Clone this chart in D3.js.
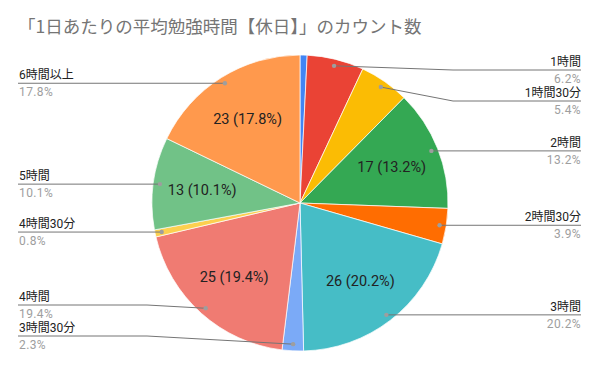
<!DOCTYPE html>
<html>
<head>
<meta charset="utf-8">
<script src="https://cdn.jsdelivr.net/npm/d3@7"></script>
<style>
  body { margin: 0; background: #fff; }
  text { font-family: Roboto, "Noto Sans CJK JP", sans-serif; }
</style>
</head>
<body>
<svg id="chart"></svg>
<script>
const width = 600, height = 371;

// data
const categories = ["30分", "1時間", "1時間30分", "2時間", "2時間30分", "3時間", "3時間30分", "4時間", "4時間30分", "5時間", "6時間以上"];
const counts = [1, 8, 7, 17, 5, 26, 3, 25, 1, 13, 23];
const colors = ["#4285f4", "#ea4335", "#fbbc04", "#34a853", "#ff6d01", "#46bdc6", "#7baaf7", "#f07b72", "#fcd04f", "#71c287", "#ff994d"];
// the reference shows no outside label for this slice
const hiddenLabels = ["30分"];
const title = "「1日あたりの平均勉強時間【休日】」のカウント数";

const cx = 300, cy = 203, r = 148;
const total = d3.sum(counts);
const fmt = d3.format(".1f");

const svg = d3.select('#chart')
  .attr('width', width)
  .attr('height', height);

svg.append('text')
  .attr('x', 18)
  .attr('y', 33)
  .attr('fill', '#757575')
  .style('font-family', '"Noto Sans CJK JP", sans-serif')
  .style('font-size', '17.5px')
  .text(title);

const data = categories.map((c, i) => ({ name: c, value: counts[i], color: colors[i] }));

const pie = d3.pie().sort(null).value(d => d.value);
const arcs = pie(data);

const arc = d3.arc().innerRadius(0).outerRadius(r);

const g = svg.append('g').attr('transform', `translate(${cx},${cy})`);

g.selectAll('path')
  .data(arcs)
  .enter()
  .append('path')
  .attr('d', arc)
  .attr('fill', d => d.data.color)
  .attr('stroke', '#fff')
  .attr('stroke-width', 0.7);

// values inside the big slices
const inner = d3.arc().innerRadius(r * 0.667).outerRadius(r * 0.667);
g.selectAll('text.val')
  .data(arcs.filter(d => d.data.value / total >= 0.1))
  .enter()
  .append('text')
  .attr('class', 'val')
  .attr('x', d => inner.centroid(d)[0])
  .attr('y', d => inner.centroid(d)[1] + 5)
  .attr('text-anchor', 'middle')
  .attr('fill', '#222')
  .style('font-size', '14.5px')
  .text(d => `${d.data.value} (${fmt(d.data.value / total * 100)}%)`);

// outside labels
const dotArc = d3.arc().innerRadius(r * 0.955).outerRadius(r * 0.955);
const labels = arcs.filter(d => !hiddenLabels.includes(d.data.name)).map(d => {
  const mid = (d.startAngle + d.endAngle) / 2;
  const p = dotArc.centroid(d);
  return { d, right: mid < Math.PI, dx: p[0] + cx, dy: p[1] + cy, y: p[1] + cy };
});

const gap = 31, minY = 70, maxY = 336;
[true, false].forEach(side => {
  const list = labels.filter(l => l.right === side).sort((a, b) => a.dy - b.dy);
  list.forEach((l, i) => {
    l.y = Math.max(l.y, minY);
    if (i > 0) l.y = Math.max(l.y, list[i - 1].y + gap);
  });
  for (let i = list.length - 1; i >= 0; i--) {
    const l = list[i];
    l.y = Math.min(l.y, maxY);
    if (i < list.length - 1) l.y = Math.min(l.y, list[i + 1].y - gap);
  }
});

const rightX = 581, leftX = 18;
const lg = svg.append('g');

labels.forEach(l => {
  const edge = l.right ? rightX : leftX;
  const bend = l.right ? cx + r + 5 : cx - r - 5;
  const pts = Math.abs(l.y - l.dy) < 1
    ? [[l.dx, l.y], [edge, l.y]]
    : [[l.dx, l.dy], [bend, l.y], [edge, l.y]];
  lg.append('path')
    .attr('d', d3.line()(pts))
    .attr('fill', 'none')
    .attr('stroke', '#757575')
    .attr('stroke-width', 1);
  lg.append('circle')
    .attr('cx', l.dx)
    .attr('cy', l.dy)
    .attr('r', 2.2)
    .attr('fill', '#9e9e9e');
  const anchor = l.right ? 'end' : 'start';
  lg.append('text')
    .attr('x', edge + (l.right ? 0 : 1))
    .attr('y', l.y - 4)
    .attr('text-anchor', anchor)
    .attr('fill', '#222')
    .style('font-size', '12px')
    .text(l.d.data.name);
  lg.append('text')
    .attr('x', edge + (l.right ? 0 : 1))
    .attr('y', l.y + 13)
    .attr('text-anchor', anchor)
    .attr('fill', '#9e9e9e')
    .style('font-size', '12px')
    .style('letter-spacing', '0.4px')
    .text(fmt(l.d.data.value / total * 100) + '%');
});
</script>
</body>
</html>
